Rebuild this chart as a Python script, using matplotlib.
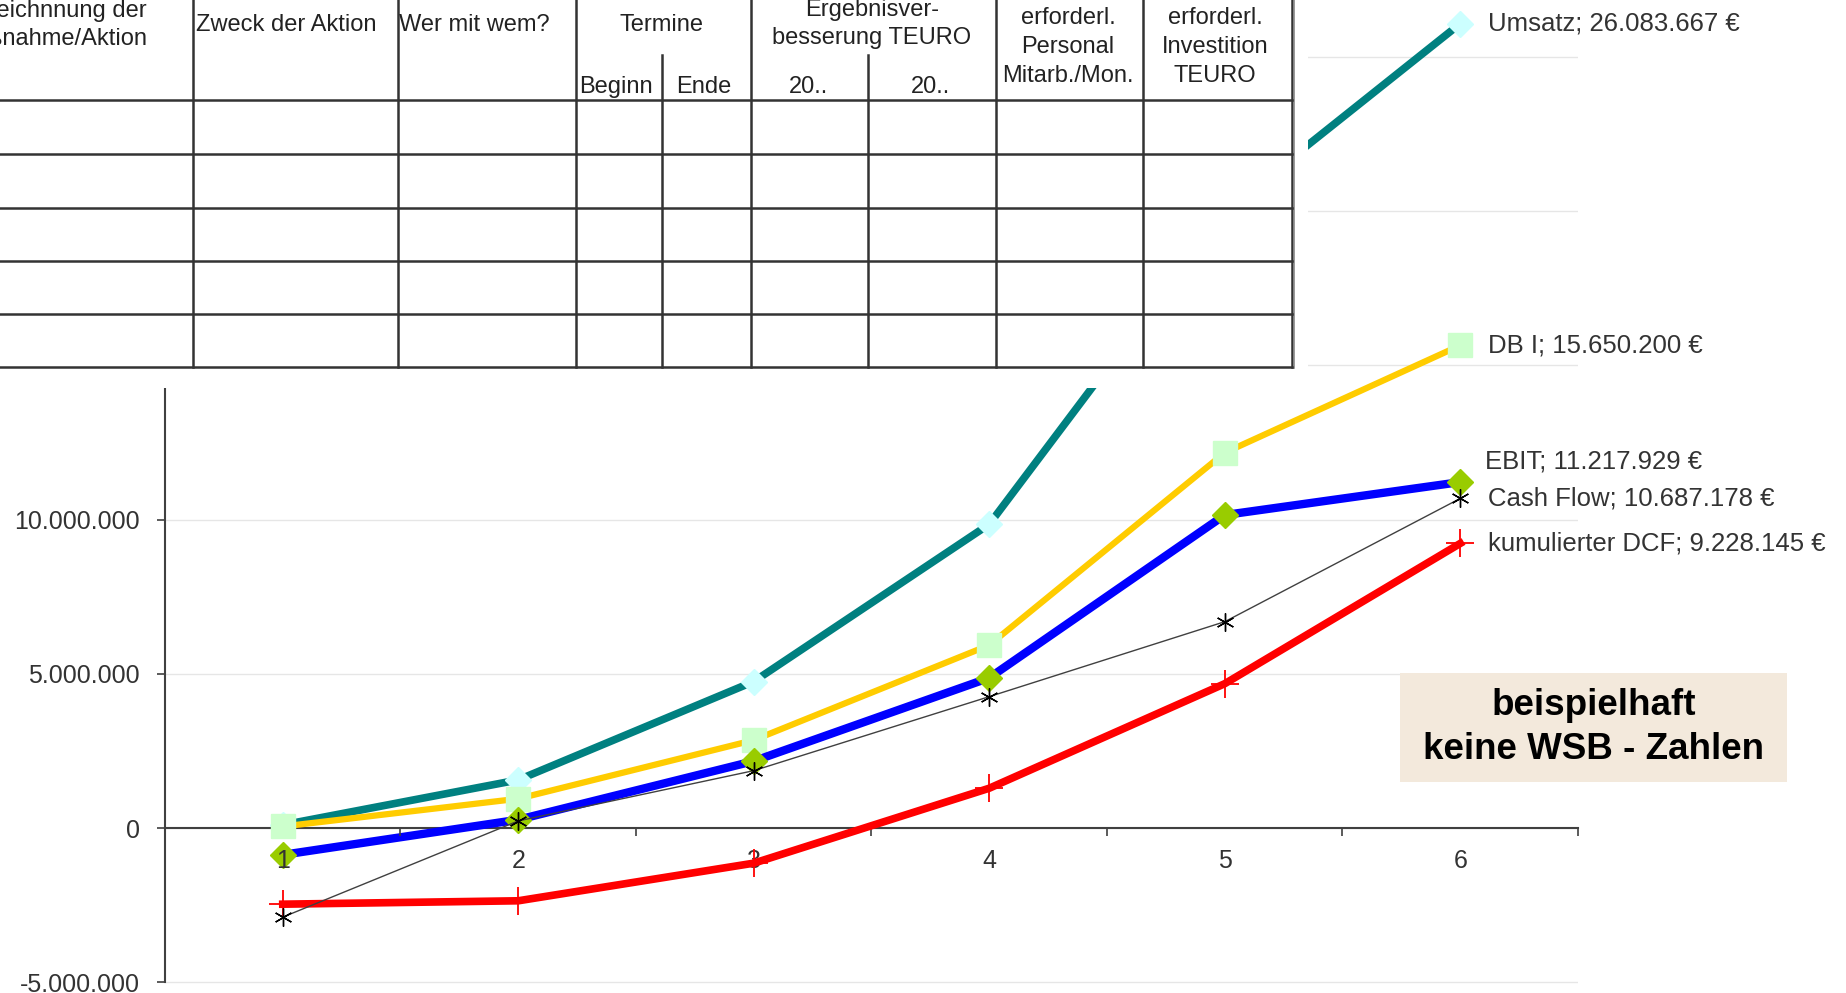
import numpy as np
import matplotlib.pyplot as plt
from matplotlib.ticker import FuncFormatter, FixedLocator
from matplotlib.patches import Rectangle

plt.rcParams['font.family'] = ['Liberation Sans', 'DejaVu Sans']

# --- data ---
jahre = [1, 2, 3, 4, 5, 6]
umsatz = [0.10e6, 1.56e6, 4.75e6, 9.85e6, 20.0e6, 26083667]
db1 = [0.05e6, 0.95e6, 2.85e6, 5.93e6, 12.17e6, 15650200]
ebit = [-0.87e6, 0.27e6, 2.17e6, 4.87e6, 10.15e6, 11217929]
cash_flow = [-2.89e6, 0.23e6, 1.86e6, 4.26e6, 6.69e6, 10687178]
dcf_kum = [-2.47e6, -2.36e6, -1.14e6, 1.29e6, 4.68e6, 9228145]
namen = ['Umsatz', 'DB I', 'EBIT', 'Cash Flow', 'kumulierter DCF']
y_ticks = [-5e6, 0, 5e6, 10e6, 15e6, 20e6, 25e6]

# table header texts
kopf = ['Bezeichnnung der\nMaßnahme/Aktion', 'Zweck der Aktion', 'Wer mit wem?',
        'Termine', 'Beginn', 'Ende', 'Ergebnisver-\nbesserung TEURO', '20..', '20..',
        'erforderl.\nPersonal\nMitarb./Mon.', 'erforderl.\nInvestition\nTEURO']


def de_zahl(v, pos=None):
    return f"{v:,.0f}".replace(',', '.')


W, H = 1846, 993
fig = plt.figure(figsize=(W / 100, H / 100), dpi=100)
fig.patch.set_facecolor('white')

ax = fig.add_axes([165 / W, 0, (1578 - 165) / W, 1])
ax.set_xlim(0.5, 6.5)
ax.set_ylim(-5.35e6, 26.85e6)

ax.plot(jahre, umsatz, color='#008080', lw=5.5, marker='D', ms=13,
        mfc='#ccffff', mec='#ccffff', zorder=3)
ax.plot(jahre, db1, color='#ffcc00', lw=4.5, marker='s', ms=17,
        mfc='#ccffcc', mec='#ccffcc', zorder=3)
ax.plot(jahre, ebit, color='#0000ff', lw=6, marker='D', ms=13,
        mfc='#99cc00', mec='#99cc00', zorder=3)
ax.plot(jahre, cash_flow, color='#404040', lw=1, marker=(6, 2, 0), ms=13,
        mfc='black', mec='black', mew=1, zorder=4)
ax.plot(jahre, dcf_kum, color='#ff0000', lw=5.5, marker='+', ms=20,
        mec='#ff0000', mew=1.3, zorder=3.6)

# end labels
werte = [umsatz, db1, ebit, cash_flow, dcf_kum]
dy = [0, 0, 21, 0, 0]
dx = [28, 28, 25, 28, 28]
for n, w, oy, ox in zip(namen, werte, dy, dx):
    ax.annotate(f"{n}; {de_zahl(w[-1])} €", (jahre[-1], w[-1]),
                xytext=(ox, oy), textcoords='offset pixels',
                va='center', ha='left', fontsize=18.5, color='#333333',
                annotation_clip=False, zorder=6)

# axes styling
for s in ['top', 'right']:
    ax.spines[s].set_visible(False)
ax.spines['bottom'].set_position(('data', 0))
ax.spines['left'].set_bounds(-5e6, 30e6)
for s in ['bottom', 'left']:
    ax.spines[s].set_color('#404040')
    ax.spines[s].set_linewidth(1.5)

ax.yaxis.set_major_locator(FixedLocator(y_ticks))
ax.yaxis.set_major_formatter(FuncFormatter(de_zahl))
ax.tick_params(axis='y', direction='out', length=6, width=1.2, color='#404040',
               labelsize=18, labelcolor='#333333', pad=12)
ax.yaxis.grid(True, color='#e6e6e6', lw=1)
ax.set_axisbelow(True)

ax.xaxis.set_major_locator(FixedLocator(np.arange(1.5, 7, 1)))
ax.xaxis.set_major_formatter(FuncFormatter(lambda v, p: ''))
ax.xaxis.set_minor_locator(FixedLocator(jahre))
ax.xaxis.set_minor_formatter(FuncFormatter(lambda v, p: f"{v:.0f}"))
ax.tick_params(axis='x', which='major', direction='out', length=6, width=1.2,
               color='#404040')
ax.tick_params(axis='x', which='minor', length=0, labelsize=18,
               labelcolor='#333333', pad=15)
ax.xaxis.set_zorder(3.5)

# --- table overlay (pixel coordinates) ---
tw, th = 1308, 388
tax = fig.add_axes([0, 1 - th / H, tw / W, th / H])
tax.set_zorder(5)
tax.set_facecolor('white')
tax.set_xlim(0, tw)
tax.set_ylim(th, 0)
tax.set_xticks([])
tax.set_yticks([])
for s in tax.spines.values():
    s.set_visible(False)

col_x = [193, 398, 576, 751, 996, 1143, 1292]
sub_x = [662, 868]
row_y = [100, 154, 208, 261, 314, 367]
lc = '#333333'
for x in col_x:
    tax.plot([x, x], [0, row_y[-1]], color=lc, lw=1.8)
tax.plot([col_x[-1] + 1.5, col_x[-1] + 1.5], [0, row_y[-1] + 1], color='#888888', lw=1.2)
for x in sub_x:
    tax.plot([x, x], [55, row_y[-1]], color=lc, lw=1.8)
for y in row_y:
    tax.plot([0, col_x[-1]], [y, y], color=lc, lw=1.8)

fs = 17
tc = '#222222'
tax.text(147, 25, kopf[0], ha='right', va='center', fontsize=fs, color=tc,
         multialignment='right', linespacing=1.4)
tax.text(286, 25, kopf[1], ha='center', va='center', fontsize=fs, color=tc)
tax.text(474, 25, kopf[2], ha='center', va='center', fontsize=fs, color=tc)
tax.text(662, 25, kopf[3], ha='center', va='center', fontsize=fs, color=tc)
tax.text(616, 87, kopf[4], ha='center', va='center', fontsize=fs, color=tc)
tax.text(704, 87, kopf[5], ha='center', va='center', fontsize=fs, color=tc)
tax.text(872, 24, kopf[6], ha='center', va='center', fontsize=fs, color=tc,
         linespacing=1.4)
tax.text(809, 87, kopf[7], ha='center', va='center', fontsize=fs, color=tc)
tax.text(930, 87, kopf[8], ha='center', va='center', fontsize=fs, color=tc)
tax.text(1068, 47, kopf[9], ha='center', va='center', fontsize=fs, color=tc,
         linespacing=1.4)
tax.text(1215, 47, kopf[10], ha='center', va='center', fontsize=fs, color=tc,
         linespacing=1.4)

# --- note box ---
bx0, bx1, by0, by1 = 1400, 1787, 673, 782
fig.patches.append(Rectangle((bx0 / W, 1 - by1 / H), (bx1 - bx0) / W, (by1 - by0) / H,
                             transform=fig.transFigure, facecolor='#f3e9dc',
                             edgecolor='none', zorder=8))
fig.text((bx0 + bx1) / 2 / W, 1 - (by0 + by1) / 2 / H,
         'beispielhaft\nkeine WSB - Zahlen', ha='center', va='center',
         fontsize=26.5, fontweight='bold', color='black', linespacing=1.3, zorder=9)

fig.savefig('out.png', dpi=100, facecolor='white')
